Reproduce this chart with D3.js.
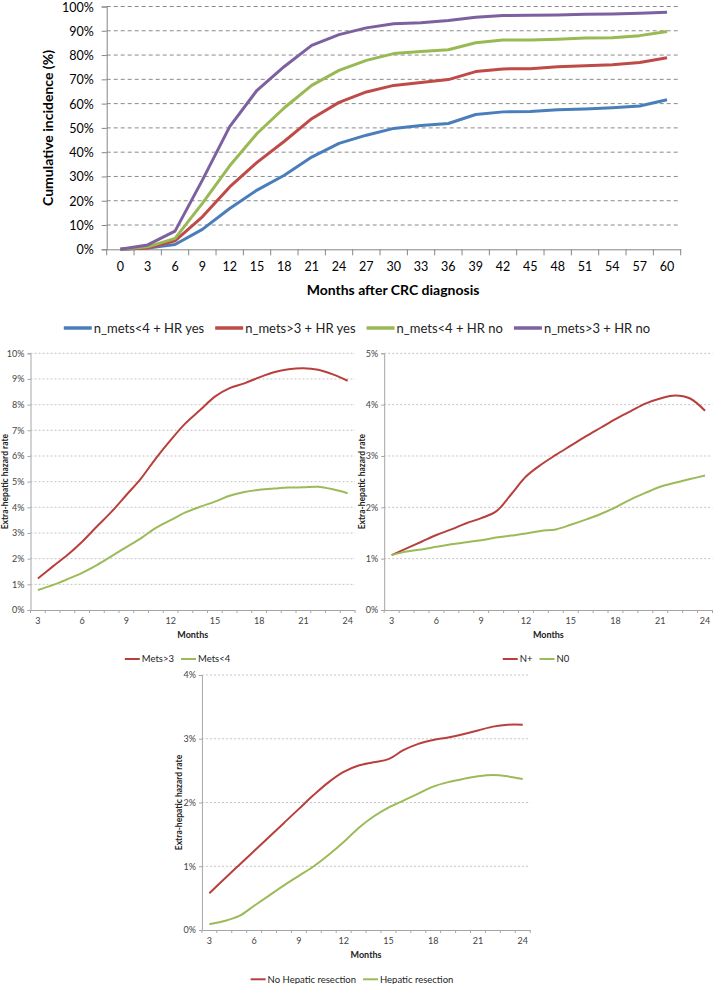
<!DOCTYPE html>
<html>
<head>
<meta charset="utf-8">
<script src="https://cdn.jsdelivr.net/npm/d3@7"></script>
<style>
  body { margin: 0; background: #fff; }
  text { font-family: Lato, "Open Sans", sans-serif; }
</style>
</head>
<body>
<svg id="chart" width="714" height="984"></svg>
<script>
// ---- data: cumulative incidence (top chart) ----
var months = [0, 3, 6, 9, 12, 15, 18, 21, 24, 27, 30, 33, 36, 39, 42, 45, 48, 51, 54, 57, 60];
var metsLt4HRyes = [0, 0.5, 2, 8.2, 16.8, 24.4, 30.5, 38, 43.6, 47, 49.8, 51, 51.8, 55.5, 56.6, 56.8, 57.5, 57.8, 58.3, 59, 61.6];
var metsGt3HRyes = [0, 0.5, 3.5, 13.4, 25.7, 35.8, 44.5, 53.8, 60.5, 64.8, 67.5, 68.7, 69.9, 73.2, 74.3, 74.4, 75.2, 75.6, 76, 76.9, 78.9];
var metsLt4HRno = [0, 1, 4.5, 18.9, 34.4, 47.7, 58.3, 67.5, 73.7, 77.8, 80.6, 81.5, 82.2, 85.1, 86.2, 86.2, 86.5, 87, 87.1, 88, 89.7];
var metsGt3HRno = [0, 1.8, 7.5, 28.5, 50.5, 65.5, 75.3, 84, 88.4, 91.2, 92.9, 93.3, 94.2, 95.6, 96.3, 96.4, 96.5, 96.8, 96.9, 97.2, 97.6];
var topLabels = ["n_mets<4 + HR yes", "n_mets>3 + HR yes", "n_mets<4 + HR no", "n_mets>3 + HR no"];
var topTicks = [0, 10, 20, 30, 40, 50, 60, 70, 80, 90, 100];

// ---- data: extra-hepatic hazard rate (small charts) ----
var hazardMonths = [3, 4, 5, 6, 7, 8, 9, 10, 11, 12, 13, 14, 15, 16, 17, 18, 19, 20, 21, 22, 23, 24];
var hazardTickMonths = [3, 6, 9, 12, 15, 18, 21, 24];
var metsGt3 = [1.23, 1.69, 2.14, 2.66, 3.25, 3.83, 4.48, 5.13, 5.91, 6.62, 7.27, 7.79, 8.31, 8.64, 8.83, 9.06, 9.26, 9.38, 9.42, 9.36, 9.18, 8.93];
var metsLt4 = [0.78, 0.97, 1.2, 1.45, 1.75, 2.1, 2.45, 2.8, 3.2, 3.5, 3.8, 4.02, 4.22, 4.45, 4.6, 4.68, 4.73, 4.77, 4.78, 4.8, 4.7, 4.55];
var nPlus = [1.07, 1.2, 1.33, 1.46, 1.57, 1.69, 1.79, 1.92, 2.25, 2.6, 2.83, 3.02, 3.2, 3.38, 3.55, 3.72, 3.87, 4.02, 4.12, 4.18, 4.12, 3.88];
var nZero = [1.07, 1.14, 1.18, 1.23, 1.28, 1.32, 1.36, 1.41, 1.45, 1.49, 1.54, 1.57, 1.66, 1.76, 1.87, 2.0, 2.15, 2.28, 2.4, 2.48, 2.55, 2.62];
var noResection = [0.575, 0.8, 1.02, 1.24, 1.46, 1.68, 1.9, 2.12, 2.32, 2.48, 2.58, 2.63, 2.68, 2.82, 2.92, 2.98, 3.02, 3.07, 3.13, 3.19, 3.22, 3.22];
var resection = [0.09, 0.14, 0.22, 0.38, 0.54, 0.7, 0.85, 1.0, 1.18, 1.38, 1.6, 1.78, 1.92, 2.03, 2.14, 2.25, 2.32, 2.37, 2.41, 2.43, 2.41, 2.37];

var svg = d3.select("#chart");

// ================= top chart =================
var topColors = ["#4a7ebb", "#be4b48", "#98b954", "#7d60a0"];
var topSeries = [metsLt4HRyes, metsGt3HRyes, metsLt4HRno, metsGt3HRno];
var tLeft = 106.7, tRight = 680.7, tTop = 6.5, tBottom = 249.3;

var x = d3.scaleBand().domain(months).range([tLeft, tRight]);
var y = d3.scaleLinear().domain([0, 100]).range([tBottom, tTop]);

// dashed gridlines
svg.append("g").selectAll("line")
  .data(topTicks.filter(d => d > 0))
  .enter().append("line")
  .attr("x1", tLeft).attr("x2", tRight)
  .attr("y1", d => y(d)).attr("y2", d => y(d))
  .attr("stroke", "#8a8a8a")
  .attr("stroke-dasharray", "4,3");

var yAxis = svg.append("g")
  .attr("transform", `translate(${tLeft},0)`)
  .call(d3.axisLeft(y).tickValues(topTicks).tickSize(5).tickPadding(8).tickFormat(d => d + "%"));
yAxis.selectAll("path, line").attr("stroke", "#868686");
yAxis.selectAll("text").attr("font-size", 12.5).attr("fill", "#000")
  .attr("dy", "0.36em")
  .style("font-family", "Lato, sans-serif");

var xAxis = svg.append("g")
  .attr("transform", `translate(0,${tBottom})`)
  .call(d3.axisBottom(x).tickSize(0).tickPadding(13));
xAxis.select("path").attr("stroke", "#868686");
xAxis.selectAll("text").attr("font-size", 12.5).attr("fill", "#000")
  .style("font-family", "Lato, sans-serif");

// category boundary tick marks
svg.append("g").selectAll("line")
  .data(months.map(m => x(m)).concat([tRight]))
  .enter().append("line")
  .attr("x1", d => d).attr("x2", d => d)
  .attr("y1", tBottom).attr("y2", tBottom + 6)
  .attr("stroke", "#868686");

var topLine = d3.line()
  .x((d, i) => x(months[i]) + x.bandwidth() / 2)
  .y(d => y(d));

topSeries.forEach(function (s, i) {
  svg.append("path")
    .attr("d", topLine(s))
    .attr("fill", "none")
    .attr("stroke", topColors[i])
    .attr("stroke-width", 3)
    .attr("stroke-linejoin", "round");
});

svg.append("text")
  .attr("x", 393).attr("y", 295)
  .attr("text-anchor", "middle")
  .attr("font-size", 14).attr("font-weight", "bold")
  .text("Months after CRC diagnosis");

svg.append("text")
  .attr("transform", "translate(53,128) rotate(-90)")
  .attr("text-anchor", "middle")
  .attr("font-size", 14).attr("font-weight", "bold")
  .text("Cumulative incidence (%)");

// legend with centered row
function legend(labels, colors, cx, cy, fontSize, lineLen, lineW, gapAfter) {
  var g = svg.append("g");
  var items = labels.map(function (lab, i) {
    var it = g.append("g");
    it.append("line")
      .attr("x1", 0).attr("x2", lineLen)
      .attr("y1", 0).attr("y2", 0)
      .attr("stroke", colors[i]).attr("stroke-width", lineW);
    var t = it.append("text")
      .attr("x", lineLen + 2).attr("y", 0)
      .attr("dy", "0.35em")
      .attr("font-size", fontSize).attr("fill", "#222")
      .text(lab);
    return { g: it, w: lineLen + 2 + t.node().getComputedTextLength() };
  });
  var total = d3.sum(items, d => d.w) + gapAfter * (items.length - 1);
  var pos = cx - total / 2;
  items.forEach(function (it) {
    it.g.attr("transform", `translate(${pos},${cy})`);
    pos += it.w + gapAfter;
  });
}

legend(topLabels, topColors, 357, 328, 13, 28, 3.5, 11);

// ================= small hazard charts =================
function smallChart(cfg) {
  var xs = d3.scaleBand().domain(hazardMonths).range([cfg.left, cfg.right]);
  var ys = d3.scaleLinear().domain([0, cfg.yMax]).range([cfg.bottom, cfg.top]);
  var ticks = d3.range(0, cfg.yMax + 1);

  svg.append("g").selectAll("line")
    .data(ticks.filter(d => d > 0))
    .enter().append("line")
    .attr("x1", cfg.left).attr("x2", cfg.right)
    .attr("y1", d => ys(d)).attr("y2", d => ys(d))
    .attr("stroke", "#c4c4c4")
    .attr("stroke-dasharray", "2,2");

  var ya = svg.append("g")
    .attr("transform", `translate(${cfg.left},0)`)
    .call(d3.axisLeft(ys).tickValues(ticks).tickSize(3).tickPadding(3).tickFormat(d => d + "%"));
  ya.selectAll("path, line").attr("stroke", "#a6a6a6");
  ya.selectAll("text").attr("font-size", 9).attr("fill", "#444")
    .style("font-family", "Lato, sans-serif");

  var xa = svg.append("g")
    .attr("transform", `translate(0,${cfg.bottom})`)
    .call(d3.axisBottom(xs).tickSize(0).tickPadding(8)
      .tickFormat(d => hazardTickMonths.indexOf(d) >= 0 ? d : ""));
  xa.select("path").attr("stroke", "#a6a6a6");
  xa.selectAll("text").attr("font-size", 9).attr("fill", "#444")
    .style("font-family", "Lato, sans-serif");

  svg.append("g").selectAll("line")
    .data(hazardMonths.map(m => xs(m)).concat([cfg.right]))
    .enter().append("line")
    .attr("x1", d => d).attr("x2", d => d)
    .attr("y1", cfg.bottom).attr("y2", cfg.bottom + 3)
    .attr("stroke", "#a6a6a6");

  var line = d3.line()
    .x((d, i) => xs(hazardMonths[i]) + xs.bandwidth() / 2)
    .y(d => ys(d))
    .curve(d3.curveCatmullRom.alpha(0.5));

  cfg.series.forEach(function (s, i) {
    svg.append("path")
      .attr("d", line(s))
      .attr("fill", "none")
      .attr("stroke", cfg.colors[i])
      .attr("stroke-width", 2);
  });

  svg.append("text")
    .attr("x", (cfg.left + cfg.right) / 2).attr("y", cfg.bottom + 28)
    .attr("text-anchor", "middle")
    .attr("font-size", 9).attr("font-weight", "bold").attr("fill", "#222")
    .text("Months");

  svg.append("text")
    .attr("transform", `translate(${cfg.yTitleX},${(cfg.top + cfg.bottom) / 2}) rotate(-90)`)
    .attr("text-anchor", "middle")
    .attr("font-size", 8.5).attr("font-weight", "bold").attr("fill", "#222")
    .text("Extra-hepatic hazard rate");

  legend(cfg.labels, cfg.colors, cfg.legendX, cfg.bottom + cfg.legendDy, 9.5, 15, 2, 7);
}

var red = "#b8403c", green = "#9bbb59";

smallChart({
  left: 30.5, right: 355, top: 353.3, bottom: 610, yMax: 10,
  series: [metsGt3, metsLt4], colors: [red, green],
  labels: ["Mets>3", "Mets<4"], legendX: 177.5, legendDy: 49, yTitleX: 8
});

smallChart({
  left: 384.2, right: 712.5, top: 353.3, bottom: 610, yMax: 5,
  series: [nPlus, nZero], colors: [red, green],
  labels: ["N+", "N0"], legendX: 536, legendDy: 49, yTitleX: 365
});

smallChart({
  left: 201.9, right: 530.2, top: 675, bottom: 930, yMax: 4,
  series: [noResection, resection], colors: [red, green],
  labels: ["No Hepatic resection", "Hepatic resection"], legendX: 352, legendDy: 49.3, yTitleX: 182
});
</script>
</body>
</html>
